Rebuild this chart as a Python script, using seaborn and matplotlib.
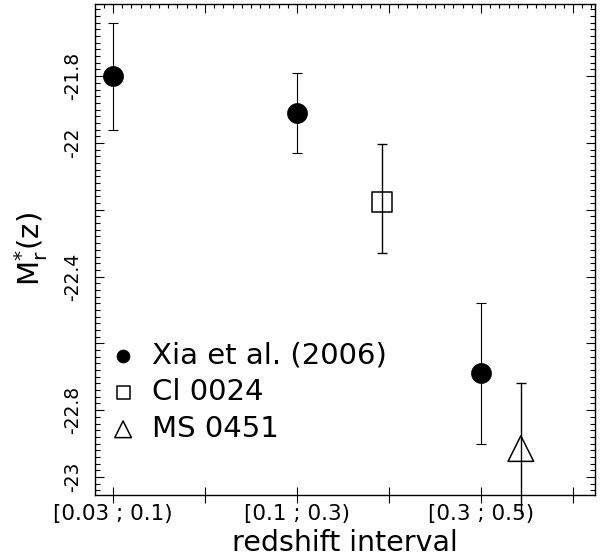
import numpy as np
import pandas as pd
import matplotlib
matplotlib.use("Agg")
import matplotlib.pyplot as plt
import seaborn as sns
from matplotlib.ticker import MultipleLocator, FixedLocator

# ---------------------------------------------------------------------------
# Data
# ---------------------------------------------------------------------------
interval_pos    = [1.0, 1.5, 2.0, 2.5, 3.0, 3.5]
interval_labels = ["[0.03 ; 0.1)", "", "[0.1 ; 0.3)", "", "[0.3 ; 0.5)", ""]

xia_x   = [1.0, 2.0, 3.0]
xia_y   = [-21.80, -21.91, -22.69]
xia_err = [0.16, 0.12, 0.21]

cl_x      = [2.46]
cl_y      = [-22.177]
cl_err_lo = [0.153]
cl_err_hi = [0.174]

ms_x   = [3.217]
ms_y   = [-22.915]
ms_err = [0.195]

ytick_vals   = [-21.8, -22.0, -22.2, -22.4, -22.6, -22.8, -23.0]
ytick_labels = ["-21.8", "-22", "", "-22.4", "", "-22.8", "-23"]

# ---------------------------------------------------------------------------
# Styling
# ---------------------------------------------------------------------------
sns.set_style("ticks", {
    "axes.edgecolor": "black",
    "xtick.color": "black",
    "ytick.color": "black",
    "text.color": "black",
    "axes.labelcolor": "black",
})
plt.rcParams["font.family"] = ["DejaVu Sans"]
plt.rcParams["mathtext.fontset"] = "dejavusans"

fig = plt.figure(figsize=(6.06, 5.6), dpi=100)
ax = fig.add_axes([95 / 606, 1 - 495 / 560, 500 / 606, 491 / 560])

# error bars first, markers on top
ax.errorbar(xia_x, xia_y, yerr=xia_err, fmt="none", ecolor="black",
            elinewidth=0.8, capsize=3.6, capthick=0.8, zorder=2)
ax.errorbar(cl_x, cl_y, yerr=[cl_err_lo, cl_err_hi], fmt="none", ecolor="black",
            elinewidth=1.0, capsize=3.6, capthick=1.0, zorder=2)
_, ms_caps, ms_bars = ax.errorbar(ms_x, ms_y, yerr=ms_err, fmt="none", ecolor="black",
                                  elinewidth=1.0, capsize=3.6, capthick=1.0, zorder=2)
for b in ms_bars:
    b.set_clip_on(False)
ms_caps[0].set_visible(False)

sns.scatterplot(x=xia_x, y=xia_y, marker="o", s=207, color="black",
                edgecolor="black", linewidth=0.5, label="Xia et al. (2006)",
                ax=ax, zorder=3)
sns.scatterplot(x=cl_x, y=cl_y, marker="s", s=207, facecolor="none",
                edgecolor="black", linewidth=1.1, label="Cl 0024", ax=ax, zorder=3)
sns.scatterplot(x=ms_x, y=ms_y, marker="^", s=340, facecolor="none",
                edgecolor="black", linewidth=1.1, label="MS 0451", ax=ax, zorder=3)

ax.set_xlim(0.902, 3.62)
ax.set_ylim(-23.054, -21.584)

# x axis: bottom major ticks in/out with labels, top ticks inward with minors
ax.xaxis.set_major_locator(FixedLocator(interval_pos))
ax.set_xticklabels(interval_labels)
ax.tick_params(axis="x", which="major", direction="inout", length=11.5, width=0.8,
               top=False, labelsize=15.5, pad=1)
ax.tick_params(axis="x", which="minor", bottom=False, top=False)

top = ax.secondary_xaxis("top")
top.xaxis.set_major_locator(MultipleLocator(0.5))
top.xaxis.set_minor_locator(MultipleLocator(0.05))
top.tick_params(which="major", direction="in", length=6.5, width=0.8, labeltop=False)
top.tick_params(which="minor", direction="in", length=3, width=0.8)

# y axis: inward ticks on both sides
ax.yaxis.set_major_locator(FixedLocator(ytick_vals))
ax.set_yticklabels(ytick_labels, rotation=90, va="center")
ax.yaxis.set_minor_locator(MultipleLocator(0.02))
ax.tick_params(axis="y", which="major", direction="in", length=6.5, width=0.8,
               left=True, right=True, labelsize=13.5, pad=9)
ax.tick_params(axis="y", which="minor", direction="in", length=3.5, width=0.8,
               left=True, right=True)

for sp in ax.spines.values():
    sp.set_linewidth(1.0)
for sp in top.spines.values():
    sp.set_visible(False)

ax.set_xlabel("redshift interval", fontsize=20.5, labelpad=3)
ax.set_ylabel(r"$\mathrm{M_r^{*}(z)}$", fontsize=21, labelpad=10)

ax.legend(loc="lower left", bbox_to_anchor=(0.027, 0.106), frameon=False,
          fontsize=21, markerscale=0.65, handlelength=1.0, handletextpad=0.5,
          labelspacing=0.3, borderaxespad=0, borderpad=0)

fig.savefig("out.png", dpi=100)
